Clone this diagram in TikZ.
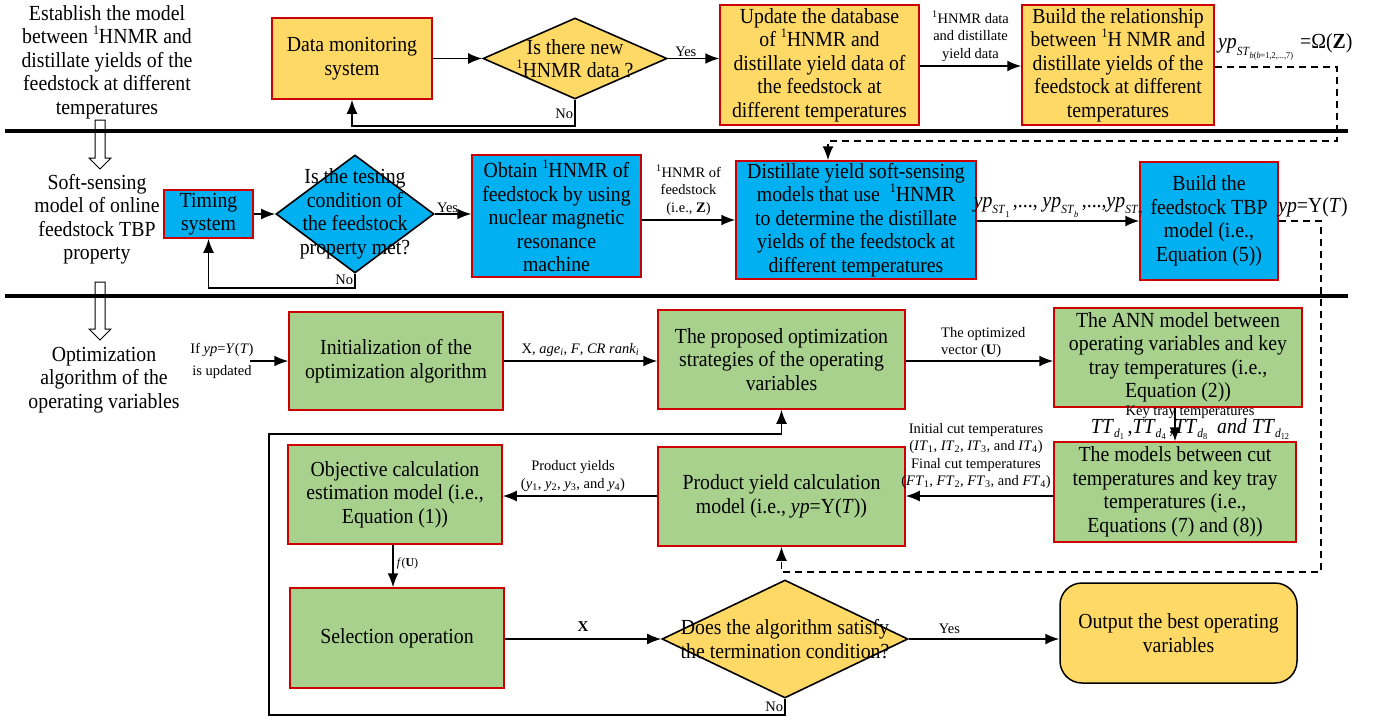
\documentclass[tikz,border=0pt]{standalone}
\usepackage{fontspec}
\setmainfont[FakeStretch=0.92]{Liberation Serif}
\newfontfamily\lblfont{Liberation Serif}
\usetikzlibrary{shapes.geometric,arrows.meta}
\definecolor{byel}{RGB}{255,217,102}
\definecolor{bblue}{RGB}{0,176,240}
\definecolor{bgreen}{RGB}{169,209,142}
\definecolor{bred}{RGB}{204,0,0}
\newcommand{\msps}[1]{\raisebox{0.42em}{\fontsize{13}{13}\selectfont #1}}
\newcommand{\msbs}[1]{\raisebox{-0.3em}{\fontsize{12.5}{13}\selectfont #1}}
\newcommand{\mssbs}[1]{\raisebox{-0.25em}{\fontsize{9}{9}\selectfont #1}}
\newcommand{\tsbs}[1]{\raisebox{-0.2em}{\fontsize{12.5}{13}\selectfont #1}}
\newcommand{\tssbs}[1]{\raisebox{-0.15em}{\fontsize{9}{9}\selectfont #1}}
\begin{document}
\begin{tikzpicture}[x=1pt,y=-1pt,
  font=\fontsize{21.5}{23.5}\selectfont,
  box/.style={draw=bred,line width=1.5pt,align=center,inner sep=2pt},
  ybox/.style={box,fill=byel},
  bbox/.style={box,fill=bblue},
  gbox/.style={box,fill=bgreen},
  dia/.style={diamond,draw=black,line width=1.6pt,inner sep=0pt},
  arr/.style={line width=1.6pt,-{Latex[length=14pt,width=11pt]}},
  dsh/.style={arr,dash pattern=on 7pt off 5pt},
  lbl/.style={font=\lblfont\fontsize{14.5}{17.5}\selectfont,align=center,inner sep=1pt},
  sect/.style={align=center},
  hollow/.style={draw=black,line width=1pt,fill=white}]
\useasboundingbox (0,0) rectangle (1377,720);

% section texts
\node[sect] (s1) at (107,62) {Establish the model\\between \msps{1}HNMR and\\distillate yields of the\\feedstock at different\\temperatures};
\node[sect] (s2) at (97,219) {Soft-sensing\\model of online\\feedstock TBP\\property};
\node[sect] (s3) at (104,380) {Optimization\\algorithm of the\\operating variables};

% hollow arrows
\draw[hollow] (95,120) -- (105,120) -- (105,158) -- (111,158) -- (100,169) -- (89,158) -- (95,158) -- cycle;
\draw[hollow] (95,282) -- (105,282) -- (105,329) -- (111,329) -- (100,340) -- (89,329) -- (95,329) -- cycle;

% thick separators
\draw[line width=4.5pt] (5,131) -- (1348,131);
\draw[line width=4.5pt] (5,296) -- (1348,296);

% ---- row 1
\node[ybox,minimum width=160pt,minimum height=81pt] (dms) at (352,58.5) {Data monitoring\\system};
\node[dia,fill=byel,minimum width=184pt,minimum height=81pt,
  label={[align=center]center:{Is there new\\\msps{1}HNMR data ?}}] (d1) at (575,58.5) {};
\node[ybox,minimum width=199pt,minimum height=120pt] (upd) at (819.5,65) {Update the database\\of \msps{1}HNMR and\\distillate yield data of\\the feedstock at\\different temperatures};
\node[ybox,minimum width=192pt,minimum height=120pt] (bld) at (1118,65) {Build the relationship\\between \msps{1}H NMR and\\distillate yields of the\\feedstock at different\\temperatures};

\draw[arr] (dms) -- (d1);
\draw[arr] (d1.east) -- node[lbl,above,pos=0.35]{Yes} (d1.east -| upd.west);
\draw[arr] (d1.south) -- node[lbl,left,pos=0.55]{No} ++(0,26) -| (dms.south);
\coordinate (y66) at (0,66);
\draw[arr] (upd.east |- y66) -- node[lbl,above=3pt]{\textsuperscript{1}HNMR data\\and distillate\\yield data} (bld.west |- y66);
\node[anchor=west,inner sep=0pt] (lyp) at (1218,47) {\textit{yp}\msbs{\textit{ST}\mssbs{\textit{b}(\textit{b}=1,2,...,7)}}\,\,=Ω(\textbf{Z})};
\coordinate (c1a) at (1337,67);
\coordinate (c1b) at (1337,141);
\coordinate (c1c) at (828,141);

% ---- row 2
\node[bbox,minimum width=89pt,minimum height=48pt] (tim) at (208.5,214) {Timing\\system};
\node[dia,fill=bblue,minimum width=158pt,minimum height=118pt,
  label={[align=center]center:{Is the testing\\condition of\\the feedstock\\property met?}}] (d2) at (355,214) {};
\node[bbox,minimum width=169pt,minimum height=122pt] (obt) at (556.5,216) {Obtain \msps{1}HNMR of\\feedstock by using\\nuclear magnetic\\resonance\\machine};
\node[bbox,minimum width=240pt,minimum height=118pt] (dst) at (856,220) {Distillate yield soft-sensing\\models that use \ \msps{1}HNMR\\to determine the distillate\\yields of the feedstock at\\different temperatures};
\node[bbox,minimum width=138pt,minimum height=118pt] (tbp) at (1209,221) {Build the\\feedstock TBP\\model (i.e.,\\Equation (5))};

\draw[dsh] (bld.east |- c1a) -- (c1a) -- (c1b) -- (c1c) -- (c1c |- dst.north);

\draw[arr] (tim) -- (d2);
\draw[arr] (d2.east) -- node[lbl,above,pos=0.35]{Yes} (d2.east -| obt.west);
\draw[arr] (d2.south) -- node[lbl,left,pos=0.45]{No} ++(0,14) -| (tim.south);
\coordinate (y220) at (0,220);
\draw[arr] (obt.east |- y220) -- node[lbl,above=3pt]{\textsuperscript{1}HNMR of\\feedstock\\(i.e., \textbf{Z})} (dst.west |- y220);
\coordinate (y221) at (0,221);
\draw[arr] (dst.east |- y221) -- node[above=2pt,inner sep=1pt]{\textit{yp}\msbs{\textit{ST}\mssbs{1}}\,,..., \textit{yp}\msbs{\textit{ST}\mssbs{\textit{b}}}\,,...,\textit{yp}\msbs{\textit{ST}\mssbs{7}}} (tbp.west |- y221);
\node[inner sep=0pt] (lypy) at (1313,207) {\textit{yp}=Y(\textit{T})};
\coordinate (c2a) at (1321,221);
\coordinate (c2b) at (1321,572);

% ---- row 3
\node[gbox,minimum width=214pt,minimum height=98pt] (ini) at (396,361) {Initialization of the\\optimization algorithm};
\node[gbox,minimum width=247pt,minimum height=99pt] (prp) at (781.5,359.5) {The proposed optimization\\strategies of the operating\\variables};
\node[gbox,minimum width=248pt,minimum height=99pt] (ann) at (1178,357.5) {The ANN model between\\operating variables and key\\tray temperatures (i.e.,\\Equation (2))};
\node[gbox,minimum width=242pt,minimum height=100pt] (mdl) at (1175,492) {The models between cut\\temperatures and key tray\\temperatures (i.e.,\\Equations (7) and (8))};
\node[gbox,minimum width=247pt,minimum height=99pt] (prd) at (781.5,496.5) {Product yield calculation\\model (i.e., \textit{yp}=Y(\textit{T}))};
\node[gbox,minimum width=214pt,minimum height=99pt] (obj) at (395,494.5) {Objective calculation\\estimation model (i.e.,\\Equation (1))};
\node[gbox,minimum width=214pt,minimum height=100pt] (sel) at (397,638) {Selection operation};
\node[dia,fill=byel,minimum width=246pt,minimum height=118pt,
  label={[align=center]center:{Does the algorithm satisfy\\the termination condition?}}] (d3) at (785,639) {};
\node[box,draw=black,fill=byel,rounded corners=22pt,minimum width=237pt,minimum height=100pt] (out) at (1178.5,633) {Output the best operating\\variables};

\draw[dsh] (tbp.east |- c2a) -- (c2a) -- (c2b) -| (prd.south);

\node[lbl] (lif) at (222,361) {If \textit{yp}=\textit{Y}(\textit{T})\\[5pt]is updated};
\coordinate (c3) at (250,361);
\draw[arr] (c3) -- (c3 -| ini.west);
\draw[arr] (ini.east) -- node[lbl,above=3pt]{X, \textit{age}\textsubscript{\textit{i}}, \textit{F}, \textit{CR rank}\textsubscript{\textit{i}}} (ini.east -| prp.west);
\coordinate (y361) at (0,361);
\draw[arr] (prp.east |- y361) -- (ann.west |- y361);
\node[lbl,align=left,anchor=south west] (lopt) at (940,359) {The optimized\\vector (\textbf{U})};
\coordinate (x1175) at (1175,0);
\draw[arr] (ann.south -| x1175) -- (mdl.north -| x1175);
\node[lbl] (lkey) at (1190,412) {Key tray temperatures};
\node[inner sep=0pt] (ltt) at (1190,429) {\textit{TT}\tsbs{\textit{d}\tssbs{1}}\,,\textit{TT}\tsbs{\textit{d}\tssbs{4}}\,,\textit{TT}\tsbs{\textit{d}\tssbs{8}} \ \textit{and} \textit{TT}\tsbs{\textit{d}\tssbs{12}}};
\coordinate (y496) at (0,496);
\draw[arr] (mdl.west |- y496) -- (prd.east |- y496);
\node[lbl] (lcut) at (976,456) {Initial cut temperatures\\(\textit{IT}\textsubscript{1}, \textit{IT}\textsubscript{2}, \textit{IT}\textsubscript{3}, and \textit{IT}\textsubscript{4})\\Final cut temperatures\\(\textit{FT}\textsubscript{1}, \textit{FT}\textsubscript{2}, \textit{FT}\textsubscript{3}, and \textit{FT}\textsubscript{4})};
\draw[arr] (prd.west |- y496) -- (obj.east |- y496);
\node[lbl] (lpy) at (573,476) {Product yields\\(\textit{y}\textsubscript{1}, \textit{y}\textsubscript{2}, \textit{y}\textsubscript{3}, and \textit{y}\textsubscript{4})};
\coordinate (x393) at (393,0);
\draw[arr] (obj.south -| x393) -- node[lbl,right=2pt,pos=0.45,font=\lblfont\fontsize{12}{14}\selectfont]{\textit{f}(\textbf{U})} (sel.north -| x393);
\draw[arr] (sel.east |- d3.west) -- node[lbl,above=6pt,font=\lblfont\bfseries\fontsize{15}{17}\selectfont]{X} (d3.west);
\draw[arr] (d3.east) -- node[lbl,above=4pt,pos=0.27]{Yes} (d3.east -| out.west);
\coordinate (c4) at (269,434);
\draw[arr] (d3.south) -- node[lbl,left,pos=0.5]{No} ++(0,16) -| (c4) -| (prp.south);
\end{tikzpicture}
\end{document}
